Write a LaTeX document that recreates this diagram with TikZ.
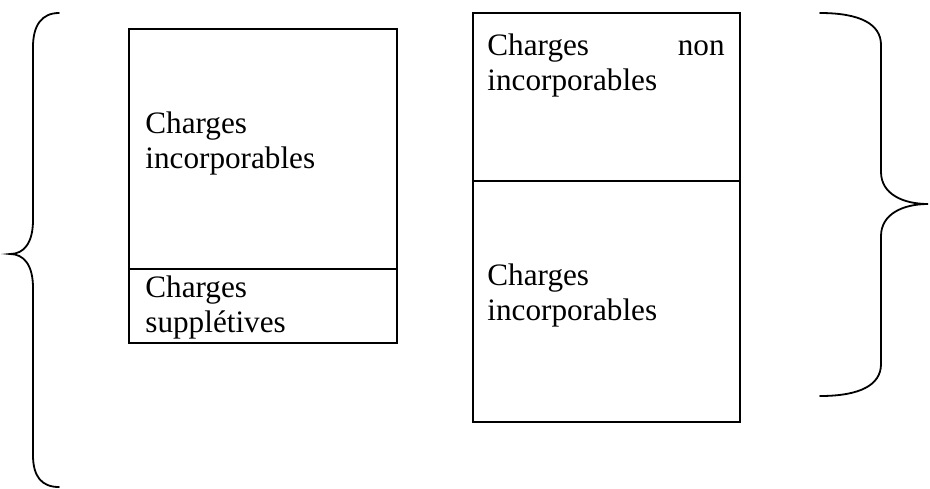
\documentclass[tikz,border=0pt]{standalone}
\usepackage{fontspec}
\setmainfont{Liberation Serif}
\begin{document}
\begin{tikzpicture}[x=0.5pt,y=-0.5pt,
  cell/.style={draw,line width=1pt,inner sep=0pt,outer sep=0pt,rectangle},
  lbl/.style={anchor=base west,inner sep=0pt,font=\fontsize{15.6pt}{17.5pt}\selectfont},
  rlbl/.style={anchor=base east,inner sep=0pt,font=\fontsize{15.6pt}{17.5pt}\selectfont},
  brace/.style={line width=0.9pt,line cap=round}]
\useasboundingbox (0,0) rectangle (930,488);
% left stack
\node[cell,minimum width=134pt,minimum height=120pt,anchor=north west] (la) at (129,28.5) {};
\node[cell,minimum width=134pt,minimum height=37pt,anchor=north west] (lb) at (la.south west) {};
% right stack
\node[cell,minimum width=133.5pt,minimum height=84pt,anchor=north west] (ra) at (473,13) {};
\node[cell,minimum width=133.5pt,minimum height=120.5pt,anchor=north west] (rb) at (ra.south west) {};
% texts
\node[lbl] (t1) at (145,133) {Charges};
\node[lbl] (t2) at (145,168) {incorporables};
\node[lbl] (t3) at (145,297) {Charges};
\node[lbl] (t4) at (145,332) {supplétives};
\node[lbl] (t5) at (487,55) {Charges};
\node[rlbl] (t5b) at (725,55) {non};
\node[lbl] (t6) at (487,90) {incorporables};
\node[lbl] (t7) at (487,285) {Charges};
\node[lbl] (t8) at (487,320) {incorporables};
% braces
\draw[brace] (59,13) .. controls (42,13) and (33,25) .. (33,47) -- (33,220)
  .. controls (33,243) and (24,254) .. (10,254)
  .. controls (24,254) and (33,265) .. (33,288) -- (33,455)
  .. controls (33,477) and (42,487) .. (59,487);
\draw[brace] (820,13) .. controls (860,13) and (881,24) .. (881,45) -- (881,172)
  .. controls (881,194) and (903,204) .. (928,204)
  .. controls (903,204) and (881,214) .. (881,236) -- (881,364)
  .. controls (881,385) and (860,396) .. (820,396);
\end{tikzpicture}
\end{document}
